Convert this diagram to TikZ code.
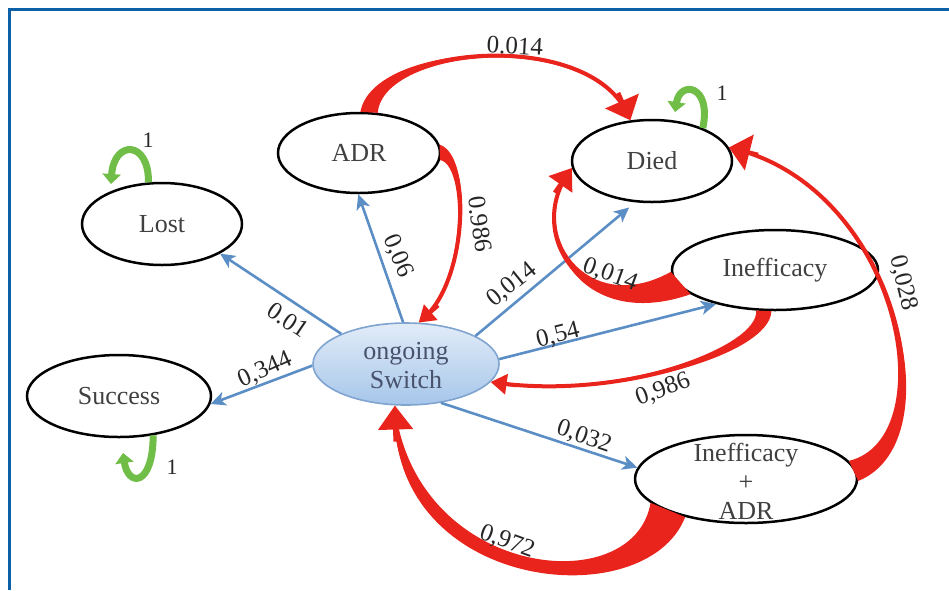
\documentclass[tikz,border=0pt]{standalone}
\usepackage{fontspec}
\setmainfont{Liberation Serif}
\usetikzlibrary{shapes.geometric,arrows.meta,calc}
\definecolor{framec}{RGB}{12,96,168}
\definecolor{bluec}{RGB}{92,142,198}
\definecolor{redc}{RGB}{233,36,28}
\definecolor{greenc}{RGB}{112,190,72}
\definecolor{txtc}{RGB}{64,64,64}
\definecolor{swtxt}{RGB}{72,82,108}
\definecolor{swtop}{RGB}{226,236,248}
\definecolor{swbot}{RGB}{166,198,234}
\definecolor{swline}{RGB}{128,164,208}
\begin{document}
\begin{tikzpicture}[x=1pt,y=-1pt,font=\fontsize{26}{29}\selectfont,
  state/.style={ellipse, draw=black, line width=2.5pt, text=txtc, inner sep=0pt},
  switchst/.style={ellipse, draw=swline, line width=1.6pt, top color=swtop, bottom color=swbot, inner sep=0pt},
  bluearrow/.style={draw=bluec, line width=2.6pt, -{Stealth[length=15pt,width=14pt,inset=4pt]}},
  redline/.style={draw=redc, line width=4pt, shorten >=6pt},
  redhead/.style={draw=redc, line width=4pt, -{Triangle[length=20pt,width=28pt]}},
  redheadwide/.style={draw=redc, line width=4pt, -{Triangle[length=21pt,width=36pt]}},
  redheadsm/.style={draw=redc, line width=3.5pt, -{Triangle[length=16pt,width=20pt]}},
  redheadbig/.style={draw=redc, line width=5pt, -{Triangle[length=24pt,width=34pt]}},
  redfill/.style={fill=redc, draw=none},
  greenloop/.style={draw=greenc, line width=7pt, -{Triangle[length=10pt,width=18pt]}},
  elabel/.style={font=\fontsize{25}{25}\selectfont, text=black!85, inner sep=1pt},
  onelabel/.style={font=\fontsize{22}{22}\selectfont, text=black!85, inner sep=1pt}]
\useasboundingbox (0,0) rectangle (949,590);
\draw[framec, line width=3pt] (9.5,590) -- (9.5,9.5) -- (949,9.5);

% states
\node[state, minimum width=160pt, minimum height=82pt] (Lost) at (162,224) {Lost};
\node[state, minimum width=162pt, minimum height=80pt] (ADR) at (359,153) {ADR};
\node[state, minimum width=160pt, minimum height=82pt] (Died) at (652,161) {Died};
\node[state, minimum width=206pt, minimum height=80pt] (Ineff) at (775,270) {Inefficacy};
\node[state, minimum width=184pt, minimum height=82pt] (Success) at (119,396) {Success};
\node[switchst, minimum width=186pt, minimum height=82pt] (Switch) at (406,364) {};
\node[text=swtxt, align=center, inner sep=0pt] (Switchtxt) at (406,366) {ongoing\\Switch};
\node[state, minimum width=222pt, minimum height=88pt] (IA) at (746,479) {};
\node[text=txtc, align=center, inner sep=0pt] (IAtxt) at (746,481) {Inefficacy\\+\\ADR};

% blue transitions
\draw[bluearrow] (Switch.155) -- (Lost.-27);
\draw[bluearrow] (Switch.94) -- (ADR.-91);
\draw[bluearrow, shorten >=8pt] (Switch.22) -- (Died.-112);
\draw[bluearrow] (Switch.3) -- (Ineff.-150);
\draw[bluearrow] (Switch.-48) -- (IA.174);
\draw[bluearrow] (Switch.181) -- (Success.-5);

% red transitions (tapered body + head)
% ADR -> Died
\fill[redfill] (ADR.65) .. controls (383,48) and (590,28) .. (Died.118) .. controls (590,28) and (373,42) .. (ADR.88) -- cycle;
\draw[redline] (ADR.76) .. controls (378,45) and (590,28) .. (Died.118);
\draw[redheadwide] ($(Died.118)!30pt!(590,28)$) -- (Died.118);
% ADR -> Switch
\fill[redfill] (ADR.6) .. controls (474,156) and (468,280) .. (Switch.73) .. controls (468,280) and (466,164) .. (ADR.-5) -- cycle;
\draw[redline] (ADR.0) .. controls (470,160) and (468,280) .. (Switch.73);
\draw[redheadsm] ($(Switch.73)!26pt!(468,280)$) -- (Switch.73);
% Inefficacy -> Died
\fill[redfill] (Ineff.181) .. controls (588,318) and (525,235) .. (Died.185) .. controls (525,235) and (580,333) .. (Ineff.196) -- cycle;
\draw[redline] (Ineff.187) .. controls (585,325) and (525,235) .. (Died.185);
\draw[redhead] ($(Died.185)!30pt!(525,235)$) -- (Died.185);
% Inefficacy -> Switch
\fill[redfill] (Ineff.-95) .. controls (770,354) and (620,400) .. (Switch.-12) .. controls (620,400) and (760,346) .. (Ineff.-115) -- cycle;
\draw[redline] (Ineff.-105) .. controls (765,350) and (620,400) .. (Switch.-12);
\draw[redheadsm] ($(Switch.-12)!26pt!(620,400)$) -- (Switch.-12);
% Inefficacy+ADR -> Died
\fill[redfill] (IA.10) .. controls (944,438) and (900,190) .. (Died.10) .. controls (900,190) and (956,442) .. (IA.-1) -- cycle;
\draw[redline] (IA.5) .. controls (950,440) and (900,190) .. (Died.10);
\draw[redheadwide] ($(Died.10)!30pt!(900,190)$) -- (Died.10);
% Inefficacy+ADR -> Switch
\fill[redfill] (IA.-148) .. controls (646,618) and (386,592) .. (Switch.-105) .. controls (414,578) and (634,602) .. (IA.-166) -- cycle;
\draw[redline] (IA.-157) .. controls (640,610) and (400,585) .. (Switch.-105);
\draw[redheadbig] ($(Switch.-105)!36pt!(400,585)$) -- (Switch.-105);

% green self loops
\coordinate (lostend) at (111,184);
\coordinate (diedend) at (675,112);
\coordinate (succend) at (123,453);
\draw[greenloop] (Lost.108) .. controls (149,140) and (114,140) .. (lostend);
\draw[greenloop] (Died.33) .. controls (712,85) and (680,80) .. (diedend);
\draw[greenloop] (Success.-49) .. controls (153,487) and (128,487) .. (succend);

% labels
\node[onelabel] (one1) at (148,140) {1};
\node[onelabel] (one2) at (722,93) {1};
\node[onelabel] (one3) at (172,467) {1};
\node[elabel, rotate=-3] (lA) at (515,46) {0.014};
\node[elabel, rotate=-82] (lB) at (480,224) {0.986};
\node[elabel, rotate=-67] (lC) at (398,256) {0,06};
\node[elabel, rotate=-34] (lD) at (288,320) {0.01};
\node[elabel, rotate=24] (lE) at (265,370) {0,344};
\node[elabel, rotate=39] (lF) at (512,285) {0,014};
\node[elabel, rotate=-20] (lG) at (610,275) {0,014};
\node[elabel, rotate=14] (lH) at (558,336) {0,54};
\node[elabel, rotate=20] (lI) at (663,390) {0,986};
\node[elabel, rotate=-19] (lJ) at (584,437) {0,032};
\node[elabel, rotate=-20] (lK) at (507,542) {0,972};
\node[elabel, rotate=-76] (lL) at (903,283) {0,028};
\end{tikzpicture}
\end{document}
